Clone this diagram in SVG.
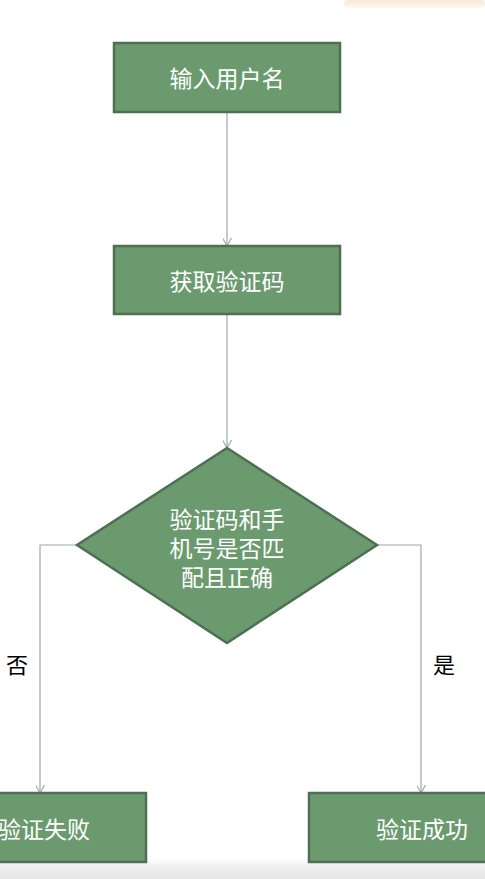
<svg xmlns="http://www.w3.org/2000/svg" width="485" height="879" viewBox="0 0 485 879">
<style>
.node{fill:#6c9a6f;stroke:#4d7052;stroke-width:2.5}
.t{fill:#ffffff;font-family:"Microsoft YaHei","Noto Sans CJK SC",sans-serif;font-size:23px;text-anchor:middle;dominant-baseline:central}
.lbl{fill:#000000;font-family:"Noto Sans CJK SC",sans-serif;font-size:22px;text-anchor:middle;dominant-baseline:central}
.c{fill:none;stroke:#9aaaa6;stroke-width:1.2}
</style>
<defs>
<marker id="arr" viewBox="0 0 10 10" refX="9" refY="5" markerWidth="9" markerHeight="9" orient="auto" markerUnits="userSpaceOnUse">
<path d="M0,0 L9,5 L0,10" fill="none" stroke="#9aaaa6" stroke-width="1.3"/>
</marker>
<linearGradient id="topg" x1="0" y1="0" x2="0" y2="1">
<stop offset="0" stop-color="#f6ead6"/><stop offset="1" stop-color="#fdf9f2"/>
</linearGradient>
<linearGradient id="botg" x1="0" y1="0" x2="0" y2="1">
<stop offset="0" stop-color="#ffffff"/><stop offset="0.5" stop-color="#eeeeee"/><stop offset="1" stop-color="#e6e6e6"/>
</linearGradient>
</defs>
<rect x="0" y="0" width="485" height="879" fill="#ffffff"/>
<rect x="344" y="0" width="141" height="8" rx="4" fill="url(#topg)"/>
<rect x="0" y="858" width="485" height="21" fill="url(#botg)"/>
<g id="connectors">
<line class="c" x1="227" y1="112" x2="227" y2="246" marker-end="url(#arr)"/>
<line class="c" x1="227" y1="314" x2="227" y2="448" marker-end="url(#arr)"/>
<polyline class="c" points="77,545 40,545 40,793" marker-end="url(#arr)"/>
<polyline class="c" points="377,545 421,545 421,793" marker-end="url(#arr)"/>
<text class="lbl" x="17" y="663">否</text>
<text class="lbl" x="444" y="663">是</text>
</g>
<g id="n1">
<rect class="node" x="114" y="43" width="226" height="69"/>
<text class="t" x="227" y="77">输入用户名</text>
</g>
<g id="n2">
<rect class="node" x="114" y="246" width="226" height="68"/>
<text class="t" x="227" y="280">获取验证码</text>
</g>
<g id="n3">
<polygon class="node" points="227,448 377,545 227,643 77,545"/>
<text class="t" x="227" y="518">验证码和手</text>
<text class="t" x="227" y="547">机号是否匹</text>
<text class="t" x="227" y="576">配且正确</text>
</g>
<g id="n4">
<rect class="node" x="-80" y="793" width="226" height="69"/>
<text class="t" x="44" y="828">验证失败</text>
</g>
<g id="n5">
<rect class="node" x="309" y="793" width="226" height="69"/>
<text class="t" x="422" y="828">验证成功</text>
</g>
</svg>
